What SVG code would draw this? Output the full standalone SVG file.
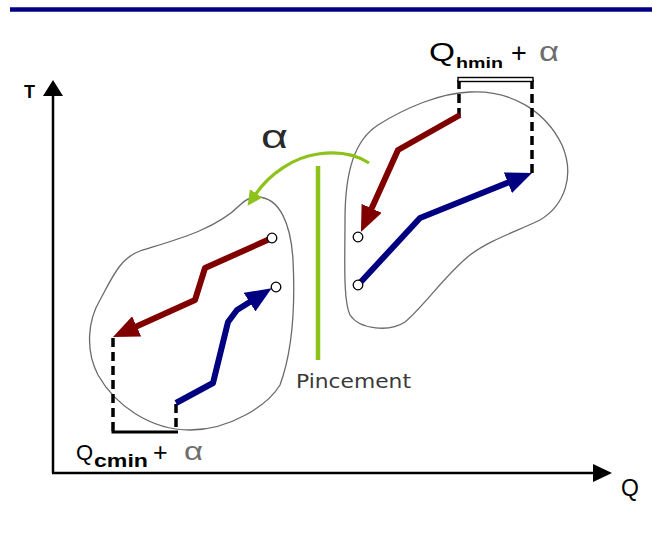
<svg xmlns="http://www.w3.org/2000/svg" width="652" height="533" viewBox="0 0 652 533">
<style>
.blob{fill:none;stroke:#6a6a6a;stroke-width:1.3}
.red{fill:none;stroke:#800000;stroke-width:6;stroke-linejoin:round}
.blue{fill:none;stroke:#000080;stroke-width:6;stroke-linejoin:round}
.dash{fill:none;stroke:#000;stroke-width:3.5;stroke-dasharray:9 5}
.pt{fill:#fff;stroke:#000;stroke-width:1.3}
.axis{fill:none;stroke:#000;stroke-width:2.5}
.green{fill:none;stroke:#8cc21a}
.lbl{font-family:"Liberation Sans",Arial,sans-serif;fill:#000}
.gr{font-family:"Liberation Sans",Arial,sans-serif;fill:#6e6e6e}
</style>
<defs>
<marker id="hr" viewBox="0 0 26 22" refX="4" refY="11" markerWidth="26" markerHeight="22" markerUnits="userSpaceOnUse" orient="auto"><path d="M0,0 L26,11 L0,22 Z" fill="#800000"/></marker>
<marker id="hb" viewBox="0 0 26 22" refX="4" refY="11" markerWidth="26" markerHeight="22" markerUnits="userSpaceOnUse" orient="auto"><path d="M0,0 L26,11 L0,22 Z" fill="#000080"/></marker>
<marker id="hg" viewBox="0 0 15 15" refX="2" refY="7.5" markerWidth="15" markerHeight="15" markerUnits="userSpaceOnUse" orient="auto"><path d="M0,0 L15,7.5 L0,15 Z" fill="#8cc21a"/></marker>
</defs>
<rect width="652" height="533" fill="#fff"/>
<line x1="10" y1="9.5" x2="652" y2="9.5" stroke="#000080" stroke-width="4.5"/>

<g id="axes">
<line class="axis" x1="53" y1="473" x2="53" y2="94"/>
<polygon points="53,80 43,96 63,96" fill="#000"/>
<line class="axis" x1="52" y1="473" x2="595" y2="473"/>
<polygon points="612,473 593,464 593,482" fill="#000"/>
<text class="lbl" x="24" y="98" font-size="18" font-weight="bold">T</text>
<text class="lbl" x="621" y="496" font-size="23">Q</text>
</g>

<g id="blob-left">
<path class="blob" d="M257,197 C280,197 291,225 293,260 C295,300 293,350 280,385 C268,405 230,430 190,430 C150,430 115,405 98,375 C85,350 88,320 100,300 C112,278 120,258 140,251 C175,240 215,230 240,205 C246,199 251,197 257,197 Z"/>
</g>
<g id="blob-right">
<path class="blob" d="M470,92 C510,90 545,110 562,145 C575,175 565,205 540,220 C515,232 490,240 470,255 C445,275 425,305 405,322 C390,332 360,330 350,315 C343,300 345,260 345,220 C345,170 355,140 378,125 C405,108 440,93 470,92 Z"/>
</g>

<g id="bracket-cmin">
<line class="dash" x1="113" y1="338" x2="113" y2="432"/>
<line class="dash" x1="176" y1="404" x2="176" y2="432"/>
<line x1="111.5" y1="432" x2="178" y2="432" stroke="#000" stroke-width="3"/>
<text class="lbl" x="76" y="460" font-size="22">Q</text>
<text class="lbl" x="94" y="467" font-size="18" font-weight="bold" textLength="54" lengthAdjust="spacingAndGlyphs">cmin</text>
<text class="lbl" x="153" y="461" font-size="25">+</text>
<text class="gr" x="184" y="460" font-size="26" textLength="19" lengthAdjust="spacingAndGlyphs">α</text>
</g>

<g id="bracket-hmin">
<line class="dash" x1="459" y1="80" x2="459" y2="116"/>
<line class="dash" x1="532" y1="80" x2="532" y2="174"/>
<rect x="458" y="77.5" width="75" height="4" fill="#fff" stroke="#000" stroke-width="1.4"/>
<text class="lbl" x="429" y="61" font-size="25" textLength="26" lengthAdjust="spacingAndGlyphs">Q</text>
<text class="lbl" x="456" y="68" font-size="15" font-weight="bold" textLength="47" lengthAdjust="spacingAndGlyphs">hmin</text>
<text class="lbl" x="511" y="62" font-size="27">+</text>
<text class="gr" x="539" y="61" font-size="28" textLength="20" lengthAdjust="spacingAndGlyphs">α</text>
</g>

<g id="pincement">
<line class="green" x1="318" y1="166" x2="318" y2="360" stroke-width="4.5"/>
<text x="296" y="388" font-family="'DejaVu Sans',Verdana,sans-serif" font-size="19" fill="#3a3a3a" textLength="115" lengthAdjust="spacingAndGlyphs">Pincement</text>
<text x="261" y="148" font-family="'Liberation Sans',Arial,sans-serif" font-size="34" fill="#2a2a2a" textLength="27" lengthAdjust="spacingAndGlyphs">α</text>
</g>

<g id="connectors">
<path class="green" stroke-width="3.2" d="M369,163 C352,152 332,152 318,154 C295,157 270,173 255,195" marker-end="url(#hg)"/>
<path class="red" d="M460,115 L398,150 L370,212" marker-end="url(#hr)"/>
<path class="blue" d="M358,285 L420,218 L511.6,181.2" marker-end="url(#hb)"/>
<path class="red" d="M272,238 L205,268 L195,300 L133,328" marker-end="url(#hr)"/>
<path class="blue" d="M176,403 L213,383 L228,322 L237,310 L253,300" marker-end="url(#hb)"/>
</g>

<g id="points">
<circle class="pt" cx="272" cy="238" r="4.8"/>
<circle class="pt" cx="276" cy="287" r="4.8"/>
<circle class="pt" cx="358" cy="237" r="4.8"/>
<circle class="pt" cx="358" cy="285" r="4.8"/>
</g>
</svg>
